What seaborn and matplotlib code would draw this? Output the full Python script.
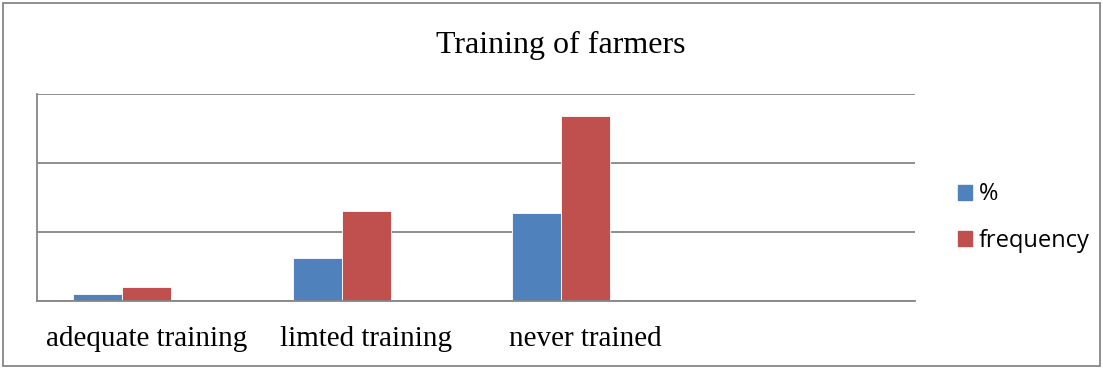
import pandas as pd
import matplotlib.pyplot as plt
import seaborn as sns
from matplotlib.patches import Rectangle, Patch

# values
categories = ['adequate training', 'limted training', 'never trained', '']
pct = [4.8, 31.0, 63.8]
freq = [10, 65, 134]
series = ['%', 'frequency', ' ']
colors = {'%': '#4F81BD', 'frequency': '#C0504D', ' ': 'white'}

df = pd.DataFrame({
    'category': categories[:3] * 2,
    'series': ['%'] * 3 + ['frequency'] * 3,
    'value': pct + freq,
})

sns.set_style('white')
plt.rcParams['font.family'] = ['Liberation Serif', 'DejaVu Sans']
plt.rcParams['text.color'] = 'black'
plt.rcParams['xtick.color'] = 'black'

fig = plt.figure(figsize=(11.03, 3.69), dpi=100)
ax = fig.add_axes([0.0333, 0.1843, 0.7963, 0.560])

sns.barplot(data=df, x='category', y='value', hue='series', order=categories,
            hue_order=series, palette=colors, saturation=1, width=0.67, gap=0,
            edgecolor='white', linewidth=0.6, ax=ax, legend=False)

ax.set_ylim(0, 150)
ax.set_yticks([0, 50, 100, 150])
ax.set_yticklabels([])
ax.tick_params(axis='y', length=3, color='#868686', width=1.3, pad=0)
ax.tick_params(axis='x', length=0, labelsize=21, labelcolor='black', pad=18)
ax.grid(axis='y', color='#868686', linewidth=1.3)
ax.set_axisbelow(True)
ax.set_xlabel('')
ax.set_ylabel('')
for side in ['top', 'right']:
    ax.spines[side].set_visible(False)
for side in ['left', 'bottom']:
    ax.spines[side].set_color('#868686')
    ax.spines[side].set_linewidth(1.3)

fig.text(0.5085, 0.876, 'Training of farmers', ha='center', va='center',
         fontsize=23, color='black')

handles = [Patch(color=colors['%']), Patch(color=colors['frequency'])]
fig.legend(handles, ['%', 'frequency'], loc='center left',
           bbox_to_anchor=(0.849, 0.41), frameon=False,
           prop={'family': 'Open Sans', 'size': 17},
           handlelength=0.6, handleheight=0.6, handletextpad=0.3,
           labelspacing=0.95)

fig.patches.append(Rectangle((0.003, 0.008), 0.994, 0.984, transform=fig.transFigure,
                             fill=False, edgecolor='#868686', linewidth=1.3))

fig.savefig('out.png', dpi=100)
